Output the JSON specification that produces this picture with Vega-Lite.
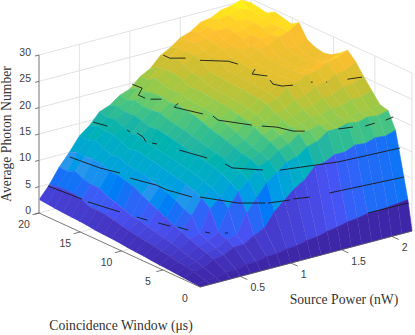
{"$schema":"https://vega.github.io/schema/vega-lite/v6.json","width":415,"height":335,"padding":0,"autosize":{"type":"none"},"background":"white","config":{"view":{"stroke":null}},
"datasets":{
"surface":[
{"p":2.2,"w":20,"z":29.3},{"p":2.1,"w":20,"z":30.3},{"p":2,"w":20,"z":29.7},{"p":1.9,"w":20,"z":29.4},{"p":1.8,"w":20,"z":28.4},{"p":1.7,"w":20,"z":28.1},{"p":1.6,"w":20,"z":26.8},{"p":1.5,"w":20,"z":26.2},{"p":1.4,"w":20,"z":24.8},{"p":1.3,"w":20,"z":23.8},{"p":1.2,"w":20,"z":21.8},{"p":1.1,"w":20,"z":20.8},{"p":1,"w":20,"z":19},{"p":0.9,"w":20,"z":18.3},{"p":0.8,"w":20,"z":16.9},{"p":0.7,"w":20,"z":16.2},{"p":0.6,"w":20,"z":14.1},{"p":0.5,"w":20,"z":12.6},{"p":0.4,"w":20,"z":10},{"p":0.3,"w":20,"z":7.7},{"p":0.2,"w":20,"z":4.8},{"p":0.1,"w":20,"z":2.5},
{"p":2.2,"w":19,"z":29},{"p":2.1,"w":19,"z":29.2},{"p":2,"w":19,"z":29.8},{"p":1.9,"w":19,"z":29.1},{"p":1.8,"w":19,"z":28.9},{"p":1.7,"w":19,"z":27.8},{"p":1.6,"w":19,"z":27.4},{"p":1.5,"w":19,"z":26.1},{"p":1.4,"w":19,"z":25.5},{"p":1.3,"w":19,"z":24},{"p":1.2,"w":19,"z":22.8},{"p":1.1,"w":19,"z":20.9},{"p":1,"w":19,"z":19.8},{"p":0.9,"w":19,"z":18.1},{"p":0.8,"w":19,"z":17.4},{"p":0.7,"w":19,"z":15.8},{"p":0.6,"w":19,"z":14.7},{"p":0.5,"w":19,"z":12.5},{"p":0.4,"w":19,"z":10.7},{"p":0.3,"w":19,"z":7.6},{"p":0.2,"w":19,"z":5.2},{"p":0.1,"w":19,"z":2.4},
{"p":2.2,"w":18.1,"z":28.7},{"p":2.1,"w":18.1,"z":29},{"p":2,"w":18.1,"z":28.5},{"p":1.9,"w":18.1,"z":28.7},{"p":1.8,"w":18.1,"z":27.9},{"p":1.7,"w":18.1,"z":27.8},{"p":1.6,"w":18.1,"z":26.9},{"p":1.5,"w":18.1,"z":26.6},{"p":1.4,"w":18.1,"z":25.4},{"p":1.3,"w":18.1,"z":24.8},{"p":1.2,"w":18.1,"z":23},{"p":1.1,"w":18.1,"z":21.9},{"p":1,"w":18.1,"z":19.8},{"p":0.9,"w":18.1,"z":18.7},{"p":0.8,"w":18.1,"z":17},{"p":0.7,"w":18.1,"z":16.1},{"p":0.6,"w":18.1,"z":14.4},{"p":0.5,"w":18.1,"z":13.2},{"p":0.4,"w":18.1,"z":10.6},{"p":0.3,"w":18.1,"z":8.3},{"p":0.2,"w":18.1,"z":5.3},{"p":0.1,"w":18.1,"z":2.2},
{"p":2.2,"w":17.1,"z":29.6},{"p":2.1,"w":17.1,"z":28.8},{"p":2,"w":17.1,"z":28.6},{"p":1.9,"w":17.1,"z":27.8},{"p":1.8,"w":17.1,"z":27.7},{"p":1.7,"w":17.1,"z":26.8},{"p":1.6,"w":17.1,"z":26.7},{"p":1.5,"w":17.1,"z":25.7},{"p":1.4,"w":17.1,"z":25.5},{"p":1.3,"w":17.1,"z":24},{"p":1.2,"w":17.1,"z":23},{"p":1.1,"w":17.1,"z":21.3},{"p":1,"w":17.1,"z":20.2},{"p":0.9,"w":17.1,"z":18.2},{"p":0.8,"w":17.1,"z":17.1},{"p":0.7,"w":17.1,"z":15.3},{"p":0.6,"w":17.1,"z":14.4},{"p":0.5,"w":17.1,"z":12.3},{"p":0.4,"w":17.1,"z":10.8},{"p":0.3,"w":17.1,"z":7.6},{"p":0.2,"w":17.1,"z":5.3},{"p":0.1,"w":17.1,"z":2.1},
{"p":2.2,"w":16.1,"z":29.2},{"p":2.1,"w":16.1,"z":28.4},{"p":2,"w":16.1,"z":28.3},{"p":1.9,"w":16.1,"z":27.4},{"p":1.8,"w":16.1,"z":27.3},{"p":1.7,"w":16.1,"z":26.4},{"p":1.6,"w":16.1,"z":26.2},{"p":1.5,"w":16.1,"z":25.3},{"p":1.4,"w":16.1,"z":24.8},{"p":1.3,"w":16.1,"z":23.3},{"p":1.2,"w":16.1,"z":22.5},{"p":1.1,"w":16.1,"z":21},{"p":1,"w":16.1,"z":20.3},{"p":0.9,"w":16.1,"z":18.2},{"p":0.8,"w":16.1,"z":16.8},{"p":0.7,"w":16.1,"z":14.8},{"p":0.6,"w":16.1,"z":13.7},{"p":0.5,"w":16.1,"z":11.8},{"p":0.4,"w":16.1,"z":10.6},{"p":0.3,"w":16.1,"z":7.2},{"p":0.2,"w":16.1,"z":5},{"p":0.1,"w":16.1,"z":2},
{"p":2.2,"w":15.1,"z":28.8},{"p":2.1,"w":15.1,"z":28.6},{"p":2,"w":15.1,"z":27.6},{"p":1.9,"w":15.1,"z":27.4},{"p":1.8,"w":15.1,"z":26.5},{"p":1.7,"w":15.1,"z":26.3},{"p":1.6,"w":15.1,"z":25.4},{"p":1.5,"w":15.1,"z":25.1},{"p":1.4,"w":15.1,"z":23.7},{"p":1.3,"w":15.1,"z":23.1},{"p":1.2,"w":15.1,"z":21.8},{"p":1.1,"w":15.1,"z":21.2},{"p":1,"w":15.1,"z":19.9},{"p":0.9,"w":15.1,"z":18.5},{"p":0.8,"w":15.1,"z":16.3},{"p":0.7,"w":15.1,"z":15.1},{"p":0.6,"w":15.1,"z":13.1},{"p":0.5,"w":15.1,"z":12},{"p":0.4,"w":15.1,"z":10},{"p":0.3,"w":15.1,"z":7.2},{"p":0.2,"w":15.1,"z":4.2},{"p":0.1,"w":15.1,"z":1.9},
{"p":2.2,"w":14.2,"z":29.7},{"p":2.1,"w":14.2,"z":28.5},{"p":2,"w":14.2,"z":28},{"p":1.9,"w":14.2,"z":26.9},{"p":1.8,"w":14.2,"z":26.6},{"p":1.7,"w":14.2,"z":25.6},{"p":1.6,"w":14.2,"z":25.3},{"p":1.5,"w":14.2,"z":24},{"p":1.4,"w":14.2,"z":23.6},{"p":1.3,"w":14.2,"z":22.3},{"p":1.2,"w":14.2,"z":21.9},{"p":1.1,"w":14.2,"z":20.7},{"p":1,"w":14.2,"z":20.2},{"p":0.9,"w":14.2,"z":17.9},{"p":0.8,"w":14.2,"z":16.5},{"p":0.7,"w":14.2,"z":14.5},{"p":0.6,"w":14.2,"z":13.4},{"p":0.5,"w":14.2,"z":11.3},{"p":0.4,"w":14.2,"z":9.9},{"p":0.3,"w":14.2,"z":6.4},{"p":0.2,"w":14.2,"z":4.2},{"p":0.1,"w":14.2,"z":1.8},
{"p":2.2,"w":13.2,"z":27.2},{"p":2.1,"w":13.2,"z":26.4},{"p":2,"w":13.2,"z":26.5},{"p":1.9,"w":13.2,"z":25.7},{"p":1.8,"w":13.2,"z":25.8},{"p":1.7,"w":13.2,"z":25.2},{"p":1.6,"w":13.2,"z":25.1},{"p":1.5,"w":13.2,"z":23.9},{"p":1.4,"w":13.2,"z":23.4},{"p":1.3,"w":13.2,"z":22.2},{"p":1.2,"w":13.2,"z":21.8},{"p":1.1,"w":13.2,"z":20.5},{"p":1,"w":13.2,"z":19.8},{"p":0.9,"w":13.2,"z":17.6},{"p":0.8,"w":13.2,"z":16.2},{"p":0.7,"w":13.2,"z":14.2},{"p":0.6,"w":13.2,"z":13.1},{"p":0.5,"w":13.2,"z":11.1},{"p":0.4,"w":13.2,"z":9.5},{"p":0.3,"w":13.2,"z":5.9},{"p":0.2,"w":13.2,"z":4.1},{"p":0.1,"w":13.2,"z":1.6},
{"p":2.2,"w":12.2,"z":26.4},{"p":2.1,"w":12.2,"z":25.8},{"p":2,"w":12.2,"z":26},{"p":1.9,"w":12.2,"z":25.4},{"p":1.8,"w":12.2,"z":25.6},{"p":1.7,"w":12.2,"z":25},{"p":1.6,"w":12.2,"z":25},{"p":1.5,"w":12.2,"z":23.8},{"p":1.4,"w":12.2,"z":23.3},{"p":1.3,"w":12.2,"z":22.1},{"p":1.2,"w":12.2,"z":21.6},{"p":1.1,"w":12.2,"z":20.4},{"p":1,"w":12.2,"z":19.6},{"p":0.9,"w":12.2,"z":17.3},{"p":0.8,"w":12.2,"z":15.9},{"p":0.7,"w":12.2,"z":13.9},{"p":0.6,"w":12.2,"z":12.8},{"p":0.5,"w":12.2,"z":10.9},{"p":0.4,"w":12.2,"z":9.1},{"p":0.3,"w":12.2,"z":5.3},{"p":0.2,"w":12.2,"z":3.8},{"p":0.1,"w":12.2,"z":1.5},
{"p":2.2,"w":11.2,"z":26.1},{"p":2.1,"w":11.2,"z":25.5},{"p":2,"w":11.2,"z":25.8},{"p":1.9,"w":11.2,"z":25.2},{"p":1.8,"w":11.2,"z":25.4},{"p":1.7,"w":11.2,"z":24.9},{"p":1.6,"w":11.2,"z":24.8},{"p":1.5,"w":11.2,"z":23.7},{"p":1.4,"w":11.2,"z":23.2},{"p":1.3,"w":11.2,"z":21.9},{"p":1.2,"w":11.2,"z":21.4},{"p":1.1,"w":11.2,"z":20.1},{"p":1,"w":11.2,"z":19},{"p":0.9,"w":11.2,"z":16.9},{"p":0.8,"w":11.2,"z":15.5},{"p":0.7,"w":11.2,"z":13.6},{"p":0.6,"w":11.2,"z":12.4},{"p":0.5,"w":11.2,"z":10.4},{"p":0.4,"w":11.2,"z":8.2},{"p":0.3,"w":11.2,"z":4.7},{"p":0.2,"w":11.2,"z":3.4},{"p":0.1,"w":11.2,"z":1.4},
{"p":2.2,"w":10.3,"z":26.4},{"p":2.1,"w":10.3,"z":25.7},{"p":2,"w":10.3,"z":25.9},{"p":1.9,"w":10.3,"z":25.3},{"p":1.8,"w":10.3,"z":25.5},{"p":1.7,"w":10.3,"z":24.9},{"p":1.6,"w":10.3,"z":24.8},{"p":1.5,"w":10.3,"z":23.6},{"p":1.4,"w":10.3,"z":23},{"p":1.3,"w":10.3,"z":21.7},{"p":1.2,"w":10.3,"z":21.1},{"p":1.1,"w":10.3,"z":19.8},{"p":1,"w":10.3,"z":18.5},{"p":0.9,"w":10.3,"z":16.5},{"p":0.8,"w":10.3,"z":15.2},{"p":0.7,"w":10.3,"z":13.3},{"p":0.6,"w":10.3,"z":12},{"p":0.5,"w":10.3,"z":10},{"p":0.4,"w":10.3,"z":7.5},{"p":0.3,"w":10.3,"z":4.6},{"p":0.2,"w":10.3,"z":3.1},{"p":0.1,"w":10.3,"z":1.3},
{"p":2.2,"w":9.3,"z":27.4},{"p":2.1,"w":9.3,"z":26.5},{"p":2,"w":9.3,"z":26.5},{"p":1.9,"w":9.3,"z":25.7},{"p":1.8,"w":9.3,"z":25.7},{"p":1.7,"w":9.3,"z":25},{"p":1.6,"w":9.3,"z":24.8},{"p":1.5,"w":9.3,"z":23.4},{"p":1.4,"w":9.3,"z":22.8},{"p":1.3,"w":9.3,"z":21.4},{"p":1.2,"w":9.3,"z":20.8},{"p":1.1,"w":9.3,"z":19.2},{"p":1,"w":9.3,"z":18},{"p":0.9,"w":9.3,"z":16.1},{"p":0.8,"w":9.3,"z":15},{"p":0.7,"w":9.3,"z":13},{"p":0.6,"w":9.3,"z":11.7},{"p":0.5,"w":9.3,"z":9.5},{"p":0.4,"w":9.3,"z":6.8},{"p":0.3,"w":9.3,"z":4.2},{"p":0.2,"w":9.3,"z":2.8},{"p":0.1,"w":9.3,"z":1.1},
{"p":2.2,"w":8.3,"z":28.7},{"p":2.1,"w":8.3,"z":27.7},{"p":2,"w":8.3,"z":27.4},{"p":1.9,"w":8.3,"z":26.4},{"p":1.8,"w":8.3,"z":26.1},{"p":1.7,"w":8.3,"z":25.1},{"p":1.6,"w":8.3,"z":24.6},{"p":1.5,"w":8.3,"z":23.1},{"p":1.4,"w":8.3,"z":22.5},{"p":1.3,"w":8.3,"z":21},{"p":1.2,"w":8.3,"z":20.4},{"p":1.1,"w":8.3,"z":18.6},{"p":1,"w":8.3,"z":17.6},{"p":0.9,"w":8.3,"z":15.7},{"p":0.8,"w":8.3,"z":14.6},{"p":0.7,"w":8.3,"z":12.6},{"p":0.6,"w":8.3,"z":11.3},{"p":0.5,"w":8.3,"z":8.7},{"p":0.4,"w":8.3,"z":6},{"p":0.3,"w":8.3,"z":3.7},{"p":0.2,"w":8.3,"z":2.6},{"p":0.1,"w":8.3,"z":1},
{"p":2.2,"w":7.3,"z":27.2},{"p":2.1,"w":7.3,"z":26.2},{"p":2,"w":7.3,"z":25.9},{"p":1.9,"w":7.3,"z":24.9},{"p":1.8,"w":7.3,"z":24.5},{"p":1.7,"w":7.3,"z":23.4},{"p":1.6,"w":7.3,"z":23},{"p":1.5,"w":7.3,"z":21.8},{"p":1.4,"w":7.3,"z":21.5},{"p":1.3,"w":7.3,"z":20.3},{"p":1.2,"w":7.3,"z":19.8},{"p":1.1,"w":7.3,"z":18},{"p":1,"w":7.3,"z":17.1},{"p":0.9,"w":7.3,"z":15.4},{"p":0.8,"w":7.3,"z":14.2},{"p":0.7,"w":7.3,"z":12.1},{"p":0.6,"w":7.3,"z":10.8},{"p":0.5,"w":7.3,"z":7.8},{"p":0.4,"w":7.3,"z":5.2},{"p":0.3,"w":7.3,"z":3.4},{"p":0.2,"w":7.3,"z":2.4},{"p":0.1,"w":7.3,"z":0.9},
{"p":2.2,"w":6.4,"z":25.2},{"p":2.1,"w":6.4,"z":24.2},{"p":2,"w":6.4,"z":24.1},{"p":1.9,"w":6.4,"z":23.1},{"p":1.8,"w":6.4,"z":23},{"p":1.7,"w":6.4,"z":22},{"p":1.6,"w":6.4,"z":21.9},{"p":1.5,"w":6.4,"z":20.9},{"p":1.4,"w":6.4,"z":20.8},{"p":1.3,"w":6.4,"z":19.8},{"p":1.2,"w":6.4,"z":19},{"p":1.1,"w":6.4,"z":17.3},{"p":1,"w":6.4,"z":16.5},{"p":0.9,"w":6.4,"z":14.8},{"p":0.8,"w":6.4,"z":13.6},{"p":0.7,"w":6.4,"z":11.5},{"p":0.6,"w":6.4,"z":10.1},{"p":0.5,"w":6.4,"z":7.3},{"p":0.4,"w":6.4,"z":4.7},{"p":0.3,"w":6.4,"z":3.1},{"p":0.2,"w":6.4,"z":2.1},{"p":0.1,"w":6.4,"z":0.75},
{"p":2.2,"w":5.4,"z":23.2},{"p":2.1,"w":5.4,"z":22.4},{"p":2,"w":5.4,"z":22.5},{"p":1.9,"w":5.4,"z":21.7},{"p":1.8,"w":5.4,"z":21.8},{"p":1.7,"w":5.4,"z":21},{"p":1.6,"w":5.4,"z":21.1},{"p":1.5,"w":5.4,"z":20.3},{"p":1.4,"w":5.4,"z":20.3},{"p":1.3,"w":5.4,"z":19.1},{"p":1.2,"w":5.4,"z":18.4},{"p":1.1,"w":5.4,"z":16.9},{"p":1,"w":5.4,"z":16.2},{"p":0.9,"w":5.4,"z":14.4},{"p":0.8,"w":5.4,"z":12.8},{"p":0.7,"w":5.4,"z":10.5},{"p":0.6,"w":5.4,"z":8.8},{"p":0.5,"w":5.4,"z":4.6},{"p":0.4,"w":5.4,"z":4},{"p":0.3,"w":5.4,"z":2.6},{"p":0.2,"w":5.4,"z":1.8},{"p":0.1,"w":5.4,"z":0.6},
{"p":2.2,"w":4.4,"z":21.2},{"p":2.1,"w":4.4,"z":20.7},{"p":2,"w":4.4,"z":20.9},{"p":1.9,"w":4.4,"z":20.4},{"p":1.8,"w":4.4,"z":20.7},{"p":1.7,"w":4.4,"z":20.1},{"p":1.6,"w":4.4,"z":20.4},{"p":1.5,"w":4.4,"z":19.9},{"p":1.4,"w":4.4,"z":19.7},{"p":1.3,"w":4.4,"z":18.3},{"p":1.2,"w":4.4,"z":17.6},{"p":1.1,"w":4.4,"z":16.2},{"p":1,"w":4.4,"z":15.5},{"p":0.9,"w":4.4,"z":13.4},{"p":0.8,"w":4.4,"z":11.8},{"p":0.7,"w":4.4,"z":9.1},{"p":0.6,"w":4.4,"z":5.2},{"p":0.5,"w":4.4,"z":3.9},{"p":0.4,"w":4.4,"z":3.4},{"p":0.3,"w":4.4,"z":2.1},{"p":0.2,"w":4.4,"z":1.5},{"p":0.1,"w":4.4,"z":0.5},
{"p":2.2,"w":3.4,"z":20.8},{"p":2.1,"w":3.4,"z":20.3},{"p":2,"w":3.4,"z":20.6},{"p":1.9,"w":3.4,"z":20.1},{"p":1.8,"w":3.4,"z":20.4},{"p":1.7,"w":3.4,"z":19.9},{"p":1.6,"w":3.4,"z":19.9},{"p":1.5,"w":3.4,"z":18.5},{"p":1.4,"w":3.4,"z":18},{"p":1.3,"w":3.4,"z":16.6},{"p":1.2,"w":3.4,"z":16.1},{"p":1.1,"w":3.4,"z":14.7},{"p":1,"w":3.4,"z":13.2},{"p":0.9,"w":3.4,"z":10.9},{"p":0.8,"w":3.4,"z":8.4},{"p":0.7,"w":3.4,"z":4.7},{"p":0.6,"w":3.4,"z":4.4},{"p":0.5,"w":3.4,"z":3.2},{"p":0.4,"w":3.4,"z":2.9},{"p":0.3,"w":3.4,"z":1.7},{"p":0.2,"w":3.4,"z":1.3},{"p":0.1,"w":3.4,"z":0.4},
{"p":2.2,"w":2.5,"z":17.7},{"p":2.1,"w":2.5,"z":17.1},{"p":2,"w":2.5,"z":17.3},{"p":1.9,"w":2.5,"z":16.7},{"p":1.8,"w":2.5,"z":16.9},{"p":1.7,"w":2.5,"z":16.1},{"p":1.6,"w":2.5,"z":16.1},{"p":1.5,"w":2.5,"z":15.2},{"p":1.4,"w":2.5,"z":14.9},{"p":1.3,"w":2.5,"z":12.8},{"p":1.2,"w":2.5,"z":11.7},{"p":1.1,"w":2.5,"z":10},{"p":1,"w":2.5,"z":8.3},{"p":0.9,"w":2.5,"z":5.7},{"p":0.8,"w":2.5,"z":4.8},{"p":0.7,"w":2.5,"z":3.7},{"p":0.6,"w":2.5,"z":3.6},{"p":0.5,"w":2.5,"z":2.6},{"p":0.4,"w":2.5,"z":2.3},{"p":0.3,"w":2.5,"z":1.3},{"p":0.2,"w":2.5,"z":1},{"p":0.1,"w":2.5,"z":0.25},
{"p":2.2,"w":1,"z":5.6},{"p":2.1,"w":1,"z":5.4},{"p":2,"w":1,"z":5.2},{"p":1.9,"w":1,"z":5},{"p":1.8,"w":1,"z":5},{"p":1.7,"w":1,"z":4.6},{"p":1.6,"w":1,"z":4.4},{"p":1.5,"w":1,"z":3.9},{"p":1.4,"w":1,"z":3.6},{"p":1.3,"w":1,"z":3.1},{"p":1.2,"w":1,"z":2.9},{"p":1.1,"w":1,"z":2.4},{"p":1,"w":1,"z":2.3},{"p":0.9,"w":1,"z":1.9},{"p":0.8,"w":1,"z":1.9},{"p":0.7,"w":1,"z":1.4},{"p":0.6,"w":1,"z":1.4},{"p":0.5,"w":1,"z":0.9},{"p":0.4,"w":1,"z":0.9},{"p":0.3,"w":1,"z":0.4},{"p":0.2,"w":1,"z":0.3},{"p":0.1,"w":1,"z":0.05},
{"p":2.2,"w":0.5,"z":0},{"p":2.1,"w":0.5,"z":0},{"p":2,"w":0.5,"z":0},{"p":1.9,"w":0.5,"z":0},{"p":1.8,"w":0.5,"z":0},{"p":1.7,"w":0.5,"z":0},{"p":1.6,"w":0.5,"z":0},{"p":1.5,"w":0.5,"z":0},{"p":1.4,"w":0.5,"z":0},{"p":1.3,"w":0.5,"z":0},{"p":1.2,"w":0.5,"z":0},{"p":1.1,"w":0.5,"z":0},{"p":1,"w":0.5,"z":0},{"p":0.9,"w":0.5,"z":0},{"p":0.8,"w":0.5,"z":0},{"p":0.7,"w":0.5,"z":0},{"p":0.6,"w":0.5,"z":0},{"p":0.5,"w":0.5,"z":0},{"p":0.4,"w":0.5,"z":0},{"p":0.3,"w":0.5,"z":0},{"p":0.2,"w":0.5,"z":0},{"p":0.1,"w":0.5,"z":0}
],
"contours":[
{"id":"5a","p":0.165,"w":19.7,"z":5},{"id":"5a","p":0.2,"w":16,"z":5},
{"id":"5b","p":0.2,"w":15.3,"z":5},{"id":"5b","p":0.262,"w":12.2,"z":5},
{"id":"5c","p":0.3,"w":10.6,"z":5},{"id":"5c","p":0.323,"w":9.6,"z":5},
{"id":"5d","p":0.352,"w":8.65,"z":5},{"id":"5d","p":0.386,"w":7.6,"z":5},
{"id":"5e","p":0.42,"w":7.1,"z":5},{"id":"5e","p":0.444,"w":6.16,"z":5},
{"id":"5f","p":0.524,"w":5.08,"z":5},{"id":"5f","p":0.541,"w":4.69,"z":5},
{"id":"5g","p":0.636,"w":4.03,"z":5},{"id":"5g","p":0.654,"w":3.89,"z":5},
{"id":"5h","p":1.81,"w":1.05,"z":5},{"id":"5h","p":2.2,"w":0.95,"z":5},
{"id":"10a","p":0.339,"w":19.2,"z":10},{"id":"10a","p":0.379,"w":16,"z":10},{"id":"10a","p":0.436,"w":14.3,"z":10},
{"id":"10b","p":0.43,"w":13,"z":10},{"id":"10b","p":0.5,"w":10.65,"z":10},{"id":"10b","p":0.5,"w":9.4,"z":10},{"id":"10b","p":0.56,"w":7.1,"z":10},
{"id":"10c","p":0.61,"w":6.74,"z":10},{"id":"10c","p":0.768,"w":4.05,"z":10},{"id":"10c","p":0.938,"w":2.86,"z":10},
{"id":"10d","p":0.957,"w":2.73,"z":10},{"id":"10d","p":1.135,"w":2.26,"z":10},
{"id":"10e","p":1.17,"w":2.3,"z":10},{"id":"10e","p":1.3,"w":1.88,"z":10},
{"id":"10f","p":1.48,"w":1.7,"z":10},{"id":"10f","p":2.17,"w":1.07,"z":10},
{"id":"15a","p":0.604,"w":19.6,"z":15},{"id":"15a","p":0.638,"w":18.3,"z":15},
{"id":"15b","p":0.709,"w":16.8,"z":15},{"id":"15b","p":0.7,"w":16.3,"z":15},
{"id":"15c","p":0.73,"w":15.8,"z":15},{"id":"15c","p":0.713,"w":14.9,"z":15},{"id":"15c","p":0.663,"w":13.9,"z":15},
{"id":"15d","p":0.688,"w":13.5,"z":15},{"id":"15d","p":0.705,"w":13.1,"z":15},
{"id":"15e","p":0.762,"w":11.1,"z":15},{"id":"15e","p":0.829,"w":8.55,"z":15},
{"id":"15f","p":0.86,"w":6.76,"z":15},{"id":"15f","p":0.85,"w":5.8,"z":15},{"id":"15f","p":0.936,"w":4.9,"z":15},{"id":"15f","p":1.016,"w":4.07,"z":15},
{"id":"15g","p":1.12,"w":3.3,"z":15},{"id":"15g","p":1.245,"w":3,"z":15},{"id":"15g","p":1.6,"w":2.1,"z":15},{"id":"15g","p":2.18,"w":1.7,"z":15},
{"id":"20a","p":1.007,"w":19.8,"z":20},{"id":"20a","p":1.016,"w":18.7,"z":20},{"id":"20a","p":0.896,"w":17.7,"z":20},{"id":"20a","p":0.898,"w":16.9,"z":20},
{"id":"20b","p":0.917,"w":16.5,"z":20},{"id":"20b","p":0.986,"w":16,"z":20},
{"id":"20c","p":1.037,"w":14.6,"z":20},{"id":"20c","p":0.957,"w":14.1,"z":20},{"id":"20c","p":1.045,"w":11.7,"z":20},
{"id":"20d","p":1.079,"w":10.9,"z":20},{"id":"20d","p":1.056,"w":10,"z":20},{"id":"20d","p":1.2,"w":7.68,"z":20},
{"id":"20e","p":1.25,"w":7.07,"z":20},{"id":"20e","p":1.33,"w":6.23,"z":20},{"id":"20e","p":1.377,"w":4.86,"z":20},{"id":"20e","p":1.45,"w":4.32,"z":20},
{"id":"20f","p":1.69,"w":3.2,"z":20},{"id":"20f","p":1.81,"w":2.88,"z":20},
{"id":"20g","p":1.9,"w":2.5,"z":20},{"id":"20g","p":2,"w":2.57,"z":20},
{"id":"20h","p":2.11,"w":2.59,"z":20},{"id":"20h","p":2.2,"w":2.78,"z":20},
{"id":"25a","p":1.24,"w":18.9,"z":25},{"id":"25a","p":1.24,"w":18.1,"z":25},{"id":"25a","p":1.34,"w":17.4,"z":25},
{"id":"25b","p":1.4,"w":16.4,"z":25},{"id":"25b","p":1.566,"w":15,"z":25},{"id":"25b","p":1.587,"w":14.1,"z":25},
{"id":"25c","p":1.627,"w":12.5,"z":25},{"id":"25c","p":1.54,"w":11.8,"z":25},{"id":"25c","p":1.61,"w":10.8,"z":25},
{"id":"25d","p":1.57,"w":10,"z":25},{"id":"25d","p":1.534,"w":9.2,"z":25},{"id":"25d","p":1.564,"w":8.46,"z":25},{"id":"25d","p":1.646,"w":8.14,"z":25},
{"id":"25e","p":1.8,"w":7.85,"z":25},{"id":"25e","p":1.81,"w":7.76,"z":25},
{"id":"25f","p":1.895,"w":7.19,"z":25},{"id":"25f","p":1.9,"w":7.15,"z":25},
{"id":"25g","p":2.07,"w":6.72,"z":25},{"id":"25g","p":2.19,"w":6.43,"z":25}
],
"lines":[
{"id":"z0","k":"grid","p":0.1,"w":20,"z":0},{"id":"z0","k":"grid","p":2.2,"w":20,"z":0},{"id":"z0","k":"grid","p":2.2,"w":0.5,"z":0},
{"id":"z5","k":"grid","p":0.1,"w":20,"z":5},{"id":"z5","k":"grid","p":2.2,"w":20,"z":5},{"id":"z5","k":"grid","p":2.2,"w":0.5,"z":5},
{"id":"z10","k":"grid","p":0.1,"w":20,"z":10},{"id":"z10","k":"grid","p":2.2,"w":20,"z":10},{"id":"z10","k":"grid","p":2.2,"w":0.5,"z":10},
{"id":"z15","k":"grid","p":0.1,"w":20,"z":15},{"id":"z15","k":"grid","p":2.2,"w":20,"z":15},{"id":"z15","k":"grid","p":2.2,"w":0.5,"z":15},
{"id":"z20","k":"grid","p":0.1,"w":20,"z":20},{"id":"z20","k":"grid","p":2.2,"w":20,"z":20},{"id":"z20","k":"grid","p":2.2,"w":0.5,"z":20},
{"id":"z25","k":"grid","p":0.1,"w":20,"z":25},{"id":"z25","k":"grid","p":2.2,"w":20,"z":25},{"id":"z25","k":"grid","p":2.2,"w":0.5,"z":25},
{"id":"z30","k":"grid","p":0.1,"w":20,"z":30},{"id":"z30","k":"grid","p":2.2,"w":20,"z":30},{"id":"z30","k":"grid","p":2.2,"w":0.5,"z":30},
{"id":"p5","k":"grid","p":0.5,"w":0.5,"z":0},{"id":"p5","k":"grid","p":0.5,"w":20,"z":0},{"id":"p5","k":"grid","p":0.5,"w":20,"z":30},
{"id":"p10","k":"grid","p":1,"w":0.5,"z":0},{"id":"p10","k":"grid","p":1,"w":20,"z":0},{"id":"p10","k":"grid","p":1,"w":20,"z":30},
{"id":"p15","k":"grid","p":1.5,"w":0.5,"z":0},{"id":"p15","k":"grid","p":1.5,"w":20,"z":0},{"id":"p15","k":"grid","p":1.5,"w":20,"z":30},
{"id":"p20","k":"grid","p":2,"w":0.5,"z":0},{"id":"p20","k":"grid","p":2,"w":20,"z":0},{"id":"p20","k":"grid","p":2,"w":20,"z":30},
{"id":"w5","k":"grid","p":0.1,"w":5,"z":0},{"id":"w5","k":"grid","p":2.2,"w":5,"z":0},{"id":"w5","k":"grid","p":2.2,"w":5,"z":30},
{"id":"w10","k":"grid","p":0.1,"w":10,"z":0},{"id":"w10","k":"grid","p":2.2,"w":10,"z":0},{"id":"w10","k":"grid","p":2.2,"w":10,"z":30},
{"id":"w15","k":"grid","p":0.1,"w":15,"z":0},{"id":"w15","k":"grid","p":2.2,"w":15,"z":0},{"id":"w15","k":"grid","p":2.2,"w":15,"z":30},
{"id":"e0","k":"grid","p":2.2,"w":0.5,"z":0},{"id":"e0","k":"grid","p":2.2,"w":0.5,"z":30},
{"id":"e1","k":"grid","p":2.2,"w":20,"z":0},{"id":"e1","k":"grid","p":2.2,"w":20,"z":30},
{"id":"ax1","k":"zaxis","p":0.1,"w":20,"z":0},{"id":"ax1","k":"zaxis","p":0.1,"w":20,"z":30},
{"id":"ax2","k":"axis","p":0.1,"w":20,"z":0},{"id":"ax2","k":"axis","p":0.1,"w":0.5,"z":0},{"id":"ax2","k":"axis","p":2.2,"w":0.5,"z":0},
{"id":"tz0","k":"axis","p":0.1,"w":20,"z":0},{"id":"tz0","k":"axis","p":0.06,"w":20,"z":0},
{"id":"tz5","k":"axis","p":0.1,"w":20,"z":5},{"id":"tz5","k":"axis","p":0.06,"w":20,"z":5},
{"id":"tz10","k":"axis","p":0.1,"w":20,"z":10},{"id":"tz10","k":"axis","p":0.06,"w":20,"z":10},
{"id":"tz15","k":"axis","p":0.1,"w":20,"z":15},{"id":"tz15","k":"axis","p":0.06,"w":20,"z":15},
{"id":"tz20","k":"axis","p":0.1,"w":20,"z":20},{"id":"tz20","k":"axis","p":0.06,"w":20,"z":20},
{"id":"tz25","k":"axis","p":0.1,"w":20,"z":25},{"id":"tz25","k":"axis","p":0.06,"w":20,"z":25},
{"id":"tz30","k":"axis","p":0.1,"w":20,"z":30},{"id":"tz30","k":"axis","p":0.06,"w":20,"z":30},
{"id":"tw5","k":"axis","p":0.1,"w":5,"z":0},{"id":"tw5","k":"axis","p":0.035,"w":5,"z":0},
{"id":"tw10","k":"axis","p":0.1,"w":10,"z":0},{"id":"tw10","k":"axis","p":0.035,"w":10,"z":0},
{"id":"tw15","k":"axis","p":0.1,"w":15,"z":0},{"id":"tw15","k":"axis","p":0.035,"w":15,"z":0},
{"id":"tw20","k":"axis","p":0.1,"w":20,"z":0},{"id":"tw20","k":"axis","p":0.035,"w":20,"z":0},
{"id":"tp5","k":"axis","p":0.5,"w":0.5,"z":0},{"id":"tp5","k":"axis","p":0.5,"w":-0.35,"z":0},
{"id":"tp10","k":"axis","p":1,"w":0.5,"z":0},{"id":"tp10","k":"axis","p":1,"w":-0.35,"z":0},
{"id":"tp15","k":"axis","p":1.5,"w":0.5,"z":0},{"id":"tp15","k":"axis","p":1.5,"w":-0.35,"z":0},
{"id":"tp20","k":"axis","p":2,"w":0.5,"z":0},{"id":"tp20","k":"axis","p":2,"w":-0.35,"z":0}
],
"ztext":[{"t":"0","z":0},{"t":"5","z":5},{"t":"10","z":10},{"t":"15","z":15},{"t":"20","z":20},{"t":"25","z":25},{"t":"30","z":30}],
"wtext":[{"t":"0","w":0.5},{"t":"5","w":5},{"t":"10","w":10},{"t":"15","w":15},{"t":"20","w":20}],
"ptext":[{"t":"0.5","p":0.5},{"t":"1","p":1},{"t":"1.5","p":1.5},{"t":"2","p":2}],
"titles":[{"t":"Coincidence Window (μs)","p":-0.93,"w":-2.53},{"t":"Source Power (nW)","p":0.828,"w":-8.04}]
},
"layer":[
{"data":{"name":"lines"},"transform":[{"filter":"datum.k=='grid'"},{"window":[{"op":"row_number","as":"o"}]},{"calculate":"200+212*(datum.p-0.1)/2.1-161*(datum.w-0.5)/19.5","as":"sx"},{"calculate":"287-56*(datum.p-0.1)/2.1-74*(datum.w-0.5)/19.5-datum.z*158/30","as":"sy"}],
"mark":{"type":"line","stroke":"#e2e2e2","strokeWidth":1},
"encoding":{"x":{"field":"sx","type":"quantitative","scale":{"domain":[0,415]},"axis":null},"y":{"field":"sy","type":"quantitative","scale":{"domain":[335,0]},"axis":null},"detail":{"field":"id"},"order":{"field":"o"}}},
{"data":{"name":"surface"},"transform":[
{"calculate":"round((datum.p-0.1)*10)","as":"i"},{"calculate":"round((datum.w-0.5)/0.975)","as":"j"},
{"calculate":"[0,1,2,3]","as":"k"},{"flatten":["k"]},
{"calculate":"(datum.i-((datum.k==1||datum.k==2)?1:0))*100+datum.j-(datum.k>=2?1:0)","as":"cell"},
{"calculate":"datum.k==0?datum.z:null","as":"z0"},
{"joinaggregate":[{"op":"count","as":"n"},{"op":"mean","field":"z0","as":"zc"}],"groupby":["cell"]},
{"filter":"datum.n==4"},
{"calculate":"200+212*(datum.p-0.1)/2.1-161*(datum.w-0.5)/19.5","as":"sx"},{"calculate":"287-56*(datum.p-0.1)/2.1-74*(datum.w-0.5)/19.5-datum.z*158/30","as":"sy"}],
"mark":{"type":"line","strokeWidth":0.6,"strokeJoin":"round"},
"encoding":{"x":{"field":"sx","type":"quantitative","scale":{"domain":[0,415]},"axis":null},"y":{"field":"sy","type":"quantitative","scale":{"domain":[335,0]},"axis":null},"detail":{"field":"cell"},"order":{"field":"k"},
"fill":{"field":"zc","type":"quantitative","legend":null,"scale":{"domain":[0,3.8,7.6,11.4,15.25,19.1,22.9,26.7,30.5],"range":["#3e26a8","#4852f4","#2796eb","#06abc9","#26b5a0","#80cc59","#ccbf33","#fdbf30","#f9fb15"]}},
"stroke":{"field":"zc","type":"quantitative","legend":null,"scale":{"domain":[0,3.8,7.6,11.4,15.25,19.1,22.9,26.7,30.5],"range":["#3e26a8","#4852f4","#2796eb","#06abc9","#26b5a0","#80cc59","#ccbf33","#fdbf30","#f9fb15"]}}}},
{"data":{"name":"contours"},"transform":[{"window":[{"op":"row_number","as":"o"}]},{"calculate":"200+212*(datum.p-0.1)/2.1-161*(datum.w-0.5)/19.5","as":"sx"},{"calculate":"287-56*(datum.p-0.1)/2.1-74*(datum.w-0.5)/19.5-datum.z*158/30","as":"sy"}],
"mark":{"type":"line","stroke":"#1a1a1a","strokeWidth":0.9},
"encoding":{"x":{"field":"sx","type":"quantitative","scale":{"domain":[0,415]},"axis":null},"y":{"field":"sy","type":"quantitative","scale":{"domain":[335,0]},"axis":null},"detail":{"field":"id"},"order":{"field":"o"}}},
{"data":{"name":"lines"},"transform":[{"filter":"datum.k!='grid'"},{"window":[{"op":"row_number","as":"o"}]},{"calculate":"200+212*(datum.p-0.1)/2.1-161*(datum.w-0.5)/19.5","as":"sx"},{"calculate":"287-56*(datum.p-0.1)/2.1-74*(datum.w-0.5)/19.5-datum.z*158/30","as":"sy"}],
"mark":{"type":"line"},
"encoding":{"x":{"field":"sx","type":"quantitative","scale":{"domain":[0,415]},"axis":null},"y":{"field":"sy","type":"quantitative","scale":{"domain":[335,0]},"axis":null},"detail":{"field":"id"},"order":{"field":"o"},
"stroke":{"field":"k","type":"nominal","legend":null,"scale":{"domain":["axis","zaxis"],"range":["#555555","#a8a8a8"]}},
"strokeWidth":{"field":"k","type":"nominal","legend":null,"scale":{"domain":["axis","zaxis"],"range":[0.8,1.6]}}}},
{"data":{"name":"ztext"},"transform":[{"calculate":"39","as":"sx"},{"calculate":"213-datum.z*158/30","as":"sy"}],
"mark":{"type":"text","align":"right","baseline":"middle","dx":-8,"dy":-2,"font":"Liberation Sans","fontSize":10.5,"color":"#404040"},
"encoding":{"x":{"field":"sx","type":"quantitative","scale":{"domain":[0,415]},"axis":null},"y":{"field":"sy","type":"quantitative","scale":{"domain":[335,0]},"axis":null},"text":{"field":"t"}}},
{"data":{"name":"wtext"},"transform":[{"calculate":"200-161*(datum.w-0.5)/19.5","as":"sx"},{"calculate":"287-74*(datum.w-0.5)/19.5","as":"sy"}],
"mark":{"type":"text","align":"center","baseline":"middle","dx":-15,"dy":12,"font":"Liberation Sans","fontSize":10.5,"color":"#404040"},
"encoding":{"x":{"field":"sx","type":"quantitative","scale":{"domain":[0,415]},"axis":null},"y":{"field":"sy","type":"quantitative","scale":{"domain":[335,0]},"axis":null},"text":{"field":"t"}}},
{"data":{"name":"ptext"},"transform":[{"calculate":"200+212*(datum.p-0.1)/2.1","as":"sx"},{"calculate":"287-56*(datum.p-0.1)/2.1","as":"sy"}],
"mark":{"type":"text","align":"left","baseline":"middle","dx":10,"dy":12,"font":"Liberation Sans","fontSize":10.5,"color":"#404040"},
"encoding":{"x":{"field":"sx","type":"quantitative","scale":{"domain":[0,415]},"axis":null},"y":{"field":"sy","type":"quantitative","scale":{"domain":[335,0]},"axis":null},"text":{"field":"t"}}},
{"data":{"name":"titles"},"transform":[{"calculate":"200+212*(datum.p-0.1)/2.1-161*(datum.w-0.5)/19.5","as":"sx"},{"calculate":"287-56*(datum.p-0.1)/2.1-74*(datum.w-0.5)/19.5","as":"sy"}],
"mark":{"type":"text","align":"center","baseline":"middle","font":"Liberation Serif","fontSize":13.7,"color":"#333333"},
"encoding":{"x":{"field":"sx","type":"quantitative","scale":{"domain":[0,415]},"axis":null},"y":{"field":"sy","type":"quantitative","scale":{"domain":[335,0]},"axis":null},"text":{"field":"t"}}},
{"data":{"values":[{"t":"Average Photon Number","sx":7,"sy":134}]},
"mark":{"type":"text","align":"center","baseline":"middle","angle":270,"font":"Liberation Serif","fontSize":13.7,"color":"#333333"},
"encoding":{"x":{"field":"sx","type":"quantitative","scale":{"domain":[0,415]},"axis":null},"y":{"field":"sy","type":"quantitative","scale":{"domain":[335,0]},"axis":null},"text":{"field":"t"}}}
]}
